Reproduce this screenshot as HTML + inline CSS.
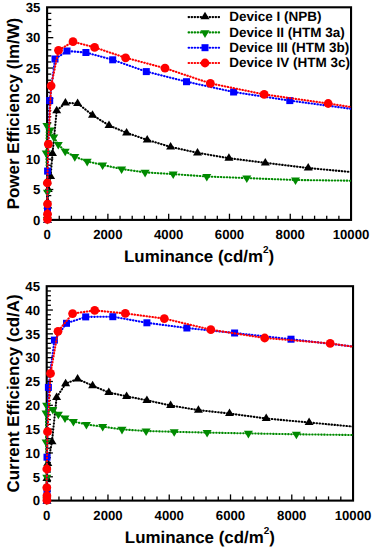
<!DOCTYPE html>
<html><head><meta charset="utf-8"><style>
html,body{margin:0;padding:0;background:#fff;}
svg{display:block;}
text{font-family:"Liberation Sans", sans-serif;font-weight:bold;fill:#000;text-rendering:geometricPrecision;}
.tk{font-size:13.2px;}
.lg{font-size:13.5px;}
.ti{font-size:16.9px;}
</style></head><body>
<svg width="374" height="550" viewBox="0 0 374 550">
<defs>
<clipPath id="c1"><rect x="41.1" y="7.3" width="309.95" height="218.6"/></clipPath>
<clipPath id="c2"><rect x="40.7" y="286.2" width="312.35" height="220.40000000000003"/></clipPath>
</defs>
<rect width="374" height="550" fill="#fff"/>
<text x="47.10" y="238.50" text-anchor="middle" class="tk">0</text>
<line x1="59.26" y1="219.90" x2="59.26" y2="215.70" stroke="#000" stroke-width="1.3"/>
<line x1="71.42" y1="219.90" x2="71.42" y2="215.70" stroke="#000" stroke-width="1.3"/>
<line x1="83.57" y1="219.90" x2="83.57" y2="215.70" stroke="#000" stroke-width="1.3"/>
<line x1="95.73" y1="219.90" x2="95.73" y2="215.70" stroke="#000" stroke-width="1.3"/>
<line x1="107.89" y1="219.90" x2="107.89" y2="213.70" stroke="#000" stroke-width="1.3"/>
<text x="107.89" y="238.50" text-anchor="middle" class="tk">2000</text>
<line x1="120.05" y1="219.90" x2="120.05" y2="215.70" stroke="#000" stroke-width="1.3"/>
<line x1="132.21" y1="219.90" x2="132.21" y2="215.70" stroke="#000" stroke-width="1.3"/>
<line x1="144.36" y1="219.90" x2="144.36" y2="215.70" stroke="#000" stroke-width="1.3"/>
<line x1="156.52" y1="219.90" x2="156.52" y2="215.70" stroke="#000" stroke-width="1.3"/>
<line x1="168.68" y1="219.90" x2="168.68" y2="213.70" stroke="#000" stroke-width="1.3"/>
<text x="168.68" y="238.50" text-anchor="middle" class="tk">4000</text>
<line x1="180.84" y1="219.90" x2="180.84" y2="215.70" stroke="#000" stroke-width="1.3"/>
<line x1="193.00" y1="219.90" x2="193.00" y2="215.70" stroke="#000" stroke-width="1.3"/>
<line x1="205.15" y1="219.90" x2="205.15" y2="215.70" stroke="#000" stroke-width="1.3"/>
<line x1="217.31" y1="219.90" x2="217.31" y2="215.70" stroke="#000" stroke-width="1.3"/>
<line x1="229.47" y1="219.90" x2="229.47" y2="213.70" stroke="#000" stroke-width="1.3"/>
<text x="229.47" y="238.50" text-anchor="middle" class="tk">6000</text>
<line x1="241.63" y1="219.90" x2="241.63" y2="215.70" stroke="#000" stroke-width="1.3"/>
<line x1="253.79" y1="219.90" x2="253.79" y2="215.70" stroke="#000" stroke-width="1.3"/>
<line x1="265.94" y1="219.90" x2="265.94" y2="215.70" stroke="#000" stroke-width="1.3"/>
<line x1="278.10" y1="219.90" x2="278.10" y2="215.70" stroke="#000" stroke-width="1.3"/>
<line x1="290.26" y1="219.90" x2="290.26" y2="213.70" stroke="#000" stroke-width="1.3"/>
<text x="290.26" y="238.50" text-anchor="middle" class="tk">8000</text>
<line x1="302.42" y1="219.90" x2="302.42" y2="215.70" stroke="#000" stroke-width="1.3"/>
<line x1="314.58" y1="219.90" x2="314.58" y2="215.70" stroke="#000" stroke-width="1.3"/>
<line x1="326.73" y1="219.90" x2="326.73" y2="215.70" stroke="#000" stroke-width="1.3"/>
<line x1="338.89" y1="219.90" x2="338.89" y2="215.70" stroke="#000" stroke-width="1.3"/>
<text x="351.05" y="238.50" text-anchor="middle" class="tk">10000</text>
<text x="40.40" y="224.65" text-anchor="end" class="tk">0</text>
<line x1="47.10" y1="213.83" x2="51.30" y2="213.83" stroke="#000" stroke-width="1.3"/>
<line x1="47.10" y1="207.75" x2="51.30" y2="207.75" stroke="#000" stroke-width="1.3"/>
<line x1="47.10" y1="201.68" x2="51.30" y2="201.68" stroke="#000" stroke-width="1.3"/>
<line x1="47.10" y1="195.60" x2="51.30" y2="195.60" stroke="#000" stroke-width="1.3"/>
<line x1="47.10" y1="189.53" x2="53.30" y2="189.53" stroke="#000" stroke-width="1.3"/>
<text x="40.40" y="194.28" text-anchor="end" class="tk">5</text>
<line x1="47.10" y1="183.45" x2="51.30" y2="183.45" stroke="#000" stroke-width="1.3"/>
<line x1="47.10" y1="177.38" x2="51.30" y2="177.38" stroke="#000" stroke-width="1.3"/>
<line x1="47.10" y1="171.31" x2="51.30" y2="171.31" stroke="#000" stroke-width="1.3"/>
<line x1="47.10" y1="165.23" x2="51.30" y2="165.23" stroke="#000" stroke-width="1.3"/>
<line x1="47.10" y1="159.16" x2="53.30" y2="159.16" stroke="#000" stroke-width="1.3"/>
<text x="40.40" y="163.91" text-anchor="end" class="tk">10</text>
<line x1="47.10" y1="153.08" x2="51.30" y2="153.08" stroke="#000" stroke-width="1.3"/>
<line x1="47.10" y1="147.01" x2="51.30" y2="147.01" stroke="#000" stroke-width="1.3"/>
<line x1="47.10" y1="140.93" x2="51.30" y2="140.93" stroke="#000" stroke-width="1.3"/>
<line x1="47.10" y1="134.86" x2="51.30" y2="134.86" stroke="#000" stroke-width="1.3"/>
<line x1="47.10" y1="128.79" x2="53.30" y2="128.79" stroke="#000" stroke-width="1.3"/>
<text x="40.40" y="133.54" text-anchor="end" class="tk">15</text>
<line x1="47.10" y1="122.71" x2="51.30" y2="122.71" stroke="#000" stroke-width="1.3"/>
<line x1="47.10" y1="116.64" x2="51.30" y2="116.64" stroke="#000" stroke-width="1.3"/>
<line x1="47.10" y1="110.56" x2="51.30" y2="110.56" stroke="#000" stroke-width="1.3"/>
<line x1="47.10" y1="104.49" x2="51.30" y2="104.49" stroke="#000" stroke-width="1.3"/>
<line x1="47.10" y1="98.41" x2="53.30" y2="98.41" stroke="#000" stroke-width="1.3"/>
<text x="40.40" y="103.16" text-anchor="end" class="tk">20</text>
<line x1="47.10" y1="92.34" x2="51.30" y2="92.34" stroke="#000" stroke-width="1.3"/>
<line x1="47.10" y1="86.27" x2="51.30" y2="86.27" stroke="#000" stroke-width="1.3"/>
<line x1="47.10" y1="80.19" x2="51.30" y2="80.19" stroke="#000" stroke-width="1.3"/>
<line x1="47.10" y1="74.12" x2="51.30" y2="74.12" stroke="#000" stroke-width="1.3"/>
<line x1="47.10" y1="68.04" x2="53.30" y2="68.04" stroke="#000" stroke-width="1.3"/>
<text x="40.40" y="72.79" text-anchor="end" class="tk">25</text>
<line x1="47.10" y1="61.97" x2="51.30" y2="61.97" stroke="#000" stroke-width="1.3"/>
<line x1="47.10" y1="55.89" x2="51.30" y2="55.89" stroke="#000" stroke-width="1.3"/>
<line x1="47.10" y1="49.82" x2="51.30" y2="49.82" stroke="#000" stroke-width="1.3"/>
<line x1="47.10" y1="43.75" x2="51.30" y2="43.75" stroke="#000" stroke-width="1.3"/>
<line x1="47.10" y1="37.67" x2="53.30" y2="37.67" stroke="#000" stroke-width="1.3"/>
<text x="40.40" y="42.42" text-anchor="end" class="tk">30</text>
<line x1="47.10" y1="31.60" x2="51.30" y2="31.60" stroke="#000" stroke-width="1.3"/>
<line x1="47.10" y1="25.52" x2="51.30" y2="25.52" stroke="#000" stroke-width="1.3"/>
<line x1="47.10" y1="19.45" x2="51.30" y2="19.45" stroke="#000" stroke-width="1.3"/>
<line x1="47.10" y1="13.37" x2="51.30" y2="13.37" stroke="#000" stroke-width="1.3"/>
<text x="40.40" y="12.05" text-anchor="end" class="tk">35</text>
<text transform="translate(18.9 113.5) rotate(-90)" text-anchor="middle" class="ti">Power Efficiency (lm/W)</text>
<text x="199.08" y="262.10" text-anchor="middle" class="ti">Luminance (cd/m<tspan font-size="10" dy="-8.7">2</tspan><tspan dy="8.7">)</tspan></text>
<text x="46.70" y="519.80" text-anchor="middle" class="tk">0</text>
<line x1="58.95" y1="500.60" x2="58.95" y2="496.40" stroke="#000" stroke-width="1.3"/>
<line x1="71.21" y1="500.60" x2="71.21" y2="496.40" stroke="#000" stroke-width="1.3"/>
<line x1="83.46" y1="500.60" x2="83.46" y2="496.40" stroke="#000" stroke-width="1.3"/>
<line x1="95.72" y1="500.60" x2="95.72" y2="496.40" stroke="#000" stroke-width="1.3"/>
<line x1="107.97" y1="500.60" x2="107.97" y2="494.40" stroke="#000" stroke-width="1.3"/>
<text x="107.97" y="519.80" text-anchor="middle" class="tk">2000</text>
<line x1="120.22" y1="500.60" x2="120.22" y2="496.40" stroke="#000" stroke-width="1.3"/>
<line x1="132.48" y1="500.60" x2="132.48" y2="496.40" stroke="#000" stroke-width="1.3"/>
<line x1="144.73" y1="500.60" x2="144.73" y2="496.40" stroke="#000" stroke-width="1.3"/>
<line x1="156.99" y1="500.60" x2="156.99" y2="496.40" stroke="#000" stroke-width="1.3"/>
<line x1="169.24" y1="500.60" x2="169.24" y2="494.40" stroke="#000" stroke-width="1.3"/>
<text x="169.24" y="519.80" text-anchor="middle" class="tk">4000</text>
<line x1="181.49" y1="500.60" x2="181.49" y2="496.40" stroke="#000" stroke-width="1.3"/>
<line x1="193.75" y1="500.60" x2="193.75" y2="496.40" stroke="#000" stroke-width="1.3"/>
<line x1="206.00" y1="500.60" x2="206.00" y2="496.40" stroke="#000" stroke-width="1.3"/>
<line x1="218.26" y1="500.60" x2="218.26" y2="496.40" stroke="#000" stroke-width="1.3"/>
<line x1="230.51" y1="500.60" x2="230.51" y2="494.40" stroke="#000" stroke-width="1.3"/>
<text x="230.51" y="519.80" text-anchor="middle" class="tk">6000</text>
<line x1="242.76" y1="500.60" x2="242.76" y2="496.40" stroke="#000" stroke-width="1.3"/>
<line x1="255.02" y1="500.60" x2="255.02" y2="496.40" stroke="#000" stroke-width="1.3"/>
<line x1="267.27" y1="500.60" x2="267.27" y2="496.40" stroke="#000" stroke-width="1.3"/>
<line x1="279.53" y1="500.60" x2="279.53" y2="496.40" stroke="#000" stroke-width="1.3"/>
<line x1="291.78" y1="500.60" x2="291.78" y2="494.40" stroke="#000" stroke-width="1.3"/>
<text x="291.78" y="519.80" text-anchor="middle" class="tk">8000</text>
<line x1="304.03" y1="500.60" x2="304.03" y2="496.40" stroke="#000" stroke-width="1.3"/>
<line x1="316.29" y1="500.60" x2="316.29" y2="496.40" stroke="#000" stroke-width="1.3"/>
<line x1="328.54" y1="500.60" x2="328.54" y2="496.40" stroke="#000" stroke-width="1.3"/>
<line x1="340.80" y1="500.60" x2="340.80" y2="496.40" stroke="#000" stroke-width="1.3"/>
<text x="353.05" y="519.80" text-anchor="middle" class="tk">10000</text>
<text x="40.00" y="505.35" text-anchor="end" class="tk">0</text>
<line x1="46.70" y1="495.84" x2="50.90" y2="495.84" stroke="#000" stroke-width="1.3"/>
<line x1="46.70" y1="491.07" x2="50.90" y2="491.07" stroke="#000" stroke-width="1.3"/>
<line x1="46.70" y1="486.31" x2="50.90" y2="486.31" stroke="#000" stroke-width="1.3"/>
<line x1="46.70" y1="481.54" x2="50.90" y2="481.54" stroke="#000" stroke-width="1.3"/>
<line x1="46.70" y1="476.78" x2="52.90" y2="476.78" stroke="#000" stroke-width="1.3"/>
<text x="40.00" y="481.53" text-anchor="end" class="tk">5</text>
<line x1="46.70" y1="472.01" x2="50.90" y2="472.01" stroke="#000" stroke-width="1.3"/>
<line x1="46.70" y1="467.25" x2="50.90" y2="467.25" stroke="#000" stroke-width="1.3"/>
<line x1="46.70" y1="462.48" x2="50.90" y2="462.48" stroke="#000" stroke-width="1.3"/>
<line x1="46.70" y1="457.72" x2="50.90" y2="457.72" stroke="#000" stroke-width="1.3"/>
<line x1="46.70" y1="452.96" x2="52.90" y2="452.96" stroke="#000" stroke-width="1.3"/>
<text x="40.00" y="457.71" text-anchor="end" class="tk">10</text>
<line x1="46.70" y1="448.19" x2="50.90" y2="448.19" stroke="#000" stroke-width="1.3"/>
<line x1="46.70" y1="443.43" x2="50.90" y2="443.43" stroke="#000" stroke-width="1.3"/>
<line x1="46.70" y1="438.66" x2="50.90" y2="438.66" stroke="#000" stroke-width="1.3"/>
<line x1="46.70" y1="433.90" x2="50.90" y2="433.90" stroke="#000" stroke-width="1.3"/>
<line x1="46.70" y1="429.13" x2="52.90" y2="429.13" stroke="#000" stroke-width="1.3"/>
<text x="40.00" y="433.88" text-anchor="end" class="tk">15</text>
<line x1="46.70" y1="424.37" x2="50.90" y2="424.37" stroke="#000" stroke-width="1.3"/>
<line x1="46.70" y1="419.60" x2="50.90" y2="419.60" stroke="#000" stroke-width="1.3"/>
<line x1="46.70" y1="414.84" x2="50.90" y2="414.84" stroke="#000" stroke-width="1.3"/>
<line x1="46.70" y1="410.08" x2="50.90" y2="410.08" stroke="#000" stroke-width="1.3"/>
<line x1="46.70" y1="405.31" x2="52.90" y2="405.31" stroke="#000" stroke-width="1.3"/>
<text x="40.00" y="410.06" text-anchor="end" class="tk">20</text>
<line x1="46.70" y1="400.55" x2="50.90" y2="400.55" stroke="#000" stroke-width="1.3"/>
<line x1="46.70" y1="395.78" x2="50.90" y2="395.78" stroke="#000" stroke-width="1.3"/>
<line x1="46.70" y1="391.02" x2="50.90" y2="391.02" stroke="#000" stroke-width="1.3"/>
<line x1="46.70" y1="386.25" x2="50.90" y2="386.25" stroke="#000" stroke-width="1.3"/>
<line x1="46.70" y1="381.49" x2="52.90" y2="381.49" stroke="#000" stroke-width="1.3"/>
<text x="40.00" y="386.24" text-anchor="end" class="tk">25</text>
<line x1="46.70" y1="376.72" x2="50.90" y2="376.72" stroke="#000" stroke-width="1.3"/>
<line x1="46.70" y1="371.96" x2="50.90" y2="371.96" stroke="#000" stroke-width="1.3"/>
<line x1="46.70" y1="367.20" x2="50.90" y2="367.20" stroke="#000" stroke-width="1.3"/>
<line x1="46.70" y1="362.43" x2="50.90" y2="362.43" stroke="#000" stroke-width="1.3"/>
<line x1="46.70" y1="357.67" x2="52.90" y2="357.67" stroke="#000" stroke-width="1.3"/>
<text x="40.00" y="362.42" text-anchor="end" class="tk">30</text>
<line x1="46.70" y1="352.90" x2="50.90" y2="352.90" stroke="#000" stroke-width="1.3"/>
<line x1="46.70" y1="348.14" x2="50.90" y2="348.14" stroke="#000" stroke-width="1.3"/>
<line x1="46.70" y1="343.37" x2="50.90" y2="343.37" stroke="#000" stroke-width="1.3"/>
<line x1="46.70" y1="338.61" x2="50.90" y2="338.61" stroke="#000" stroke-width="1.3"/>
<line x1="46.70" y1="333.84" x2="52.90" y2="333.84" stroke="#000" stroke-width="1.3"/>
<text x="40.00" y="338.59" text-anchor="end" class="tk">35</text>
<line x1="46.70" y1="329.08" x2="50.90" y2="329.08" stroke="#000" stroke-width="1.3"/>
<line x1="46.70" y1="324.32" x2="50.90" y2="324.32" stroke="#000" stroke-width="1.3"/>
<line x1="46.70" y1="319.55" x2="50.90" y2="319.55" stroke="#000" stroke-width="1.3"/>
<line x1="46.70" y1="314.79" x2="50.90" y2="314.79" stroke="#000" stroke-width="1.3"/>
<line x1="46.70" y1="310.02" x2="52.90" y2="310.02" stroke="#000" stroke-width="1.3"/>
<text x="40.00" y="314.77" text-anchor="end" class="tk">40</text>
<line x1="46.70" y1="305.26" x2="50.90" y2="305.26" stroke="#000" stroke-width="1.3"/>
<line x1="46.70" y1="300.49" x2="50.90" y2="300.49" stroke="#000" stroke-width="1.3"/>
<line x1="46.70" y1="295.73" x2="50.90" y2="295.73" stroke="#000" stroke-width="1.3"/>
<line x1="46.70" y1="290.96" x2="50.90" y2="290.96" stroke="#000" stroke-width="1.3"/>
<text x="40.00" y="290.95" text-anchor="end" class="tk">45</text>
<text transform="translate(18.6 393.4) rotate(-90)" text-anchor="middle" class="ti">Current Efficiency (cd/A)</text>
<text x="199.88" y="542.80" text-anchor="middle" class="ti">Luminance (cd/m<tspan font-size="10" dy="-8.7">2</tspan><tspan dy="8.7">)</tspan></text>
<rect x="47.10" y="7.30" width="303.95" height="212.60" fill="none" stroke="#000" stroke-width="2.1"/>
<rect x="46.70" y="286.20" width="306.35" height="214.40" fill="none" stroke="#000" stroke-width="2.1"/>
<path d="M47.50 220.50 L47.80 206.00 L48.20 189.50 L50.60 176.40 L52.50 153.50 L56.70 110.60 L65.40 103.00 L77.60 103.30 L92.50 115.10 L109.00 125.40 L126.60 132.80 L147.20 139.90 L170.60 146.90 L197.50 152.80 L228.90 158.20 L265.30 162.80 L308.20 168.00 L351.00 172.00" fill="none" stroke="#000000" stroke-width="2.1" stroke-dasharray="0.5 2.5" stroke-linecap="round" clip-path="url(#c1)"/>
<path d="M47.50 215.60L52.00 223.10L43.00 223.10Z" fill="#000000"/>
<path d="M47.80 201.10L52.30 208.60L43.30 208.60Z" fill="#000000"/>
<path d="M48.20 184.60L52.70 192.10L43.70 192.10Z" fill="#000000"/>
<path d="M50.60 171.50L55.10 179.00L46.10 179.00Z" fill="#000000"/>
<path d="M52.50 148.60L57.00 156.10L48.00 156.10Z" fill="#000000"/>
<path d="M56.70 105.70L61.20 113.20L52.20 113.20Z" fill="#000000"/>
<path d="M65.40 98.10L69.90 105.60L60.90 105.60Z" fill="#000000"/>
<path d="M77.60 98.40L82.10 105.90L73.10 105.90Z" fill="#000000"/>
<path d="M92.50 110.20L97.00 117.70L88.00 117.70Z" fill="#000000"/>
<path d="M109.00 120.50L113.50 128.00L104.50 128.00Z" fill="#000000"/>
<path d="M126.60 127.90L131.10 135.40L122.10 135.40Z" fill="#000000"/>
<path d="M147.20 135.00L151.70 142.50L142.70 142.50Z" fill="#000000"/>
<path d="M170.60 142.00L175.10 149.50L166.10 149.50Z" fill="#000000"/>
<path d="M197.50 147.90L202.00 155.40L193.00 155.40Z" fill="#000000"/>
<path d="M228.90 153.30L233.40 160.80L224.40 160.80Z" fill="#000000"/>
<path d="M265.30 157.90L269.80 165.40L260.80 165.40Z" fill="#000000"/>
<path d="M308.20 163.10L312.70 170.60L303.70 170.60Z" fill="#000000"/>
<path d="M47.30 219.50 L47.50 192.30 L46.20 153.10 L46.90 125.50 L50.10 130.20 L53.80 137.00 L58.30 144.50 L65.20 151.30 L74.80 156.70 L87.20 161.40 L102.60 165.00 L121.60 169.00 L145.10 172.40 L173.20 174.10 L206.80 176.50 L246.80 178.10 L295.50 180.00 L351.00 180.70" fill="none" stroke="#008a00" stroke-width="2.1" stroke-dasharray="0.5 2.5" stroke-linecap="round" clip-path="url(#c1)"/>
<path d="M47.30 224.50L51.80 216.90L42.80 216.90Z" fill="#008a00"/>
<path d="M47.50 197.30L52.00 189.70L43.00 189.70Z" fill="#008a00"/>
<path d="M46.20 158.10L50.70 150.50L41.70 150.50Z" fill="#008a00"/>
<path d="M46.90 130.50L51.40 122.90L42.40 122.90Z" fill="#008a00"/>
<path d="M50.10 135.20L54.60 127.60L45.60 127.60Z" fill="#008a00"/>
<path d="M53.80 142.00L58.30 134.40L49.30 134.40Z" fill="#008a00"/>
<path d="M58.30 149.50L62.80 141.90L53.80 141.90Z" fill="#008a00"/>
<path d="M65.20 156.30L69.70 148.70L60.70 148.70Z" fill="#008a00"/>
<path d="M74.80 161.70L79.30 154.10L70.30 154.10Z" fill="#008a00"/>
<path d="M87.20 166.40L91.70 158.80L82.70 158.80Z" fill="#008a00"/>
<path d="M102.60 170.00L107.10 162.40L98.10 162.40Z" fill="#008a00"/>
<path d="M121.60 174.00L126.10 166.40L117.10 166.40Z" fill="#008a00"/>
<path d="M145.10 177.40L149.60 169.80L140.60 169.80Z" fill="#008a00"/>
<path d="M173.20 179.10L177.70 171.50L168.70 171.50Z" fill="#008a00"/>
<path d="M206.80 181.50L211.30 173.90L202.30 173.90Z" fill="#008a00"/>
<path d="M246.80 183.10L251.30 175.50L242.30 175.50Z" fill="#008a00"/>
<path d="M295.50 185.00L300.00 177.40L291.00 177.40Z" fill="#008a00"/>
<path d="M47.50 219.50 L47.50 209.70 L47.60 171.10 L49.70 100.60 L55.00 59.00 L67.00 51.00 L85.90 52.50 L112.70 59.80 L146.30 71.60 L186.50 81.70 L233.60 92.00 L289.80 100.60 L351.00 108.80" fill="none" stroke="#0000ff" stroke-width="2.1" stroke-dasharray="0.5 2.5" stroke-linecap="round" clip-path="url(#c1)"/>
<rect x="44.00" y="216.00" width="7" height="7" fill="#0000ff"/>
<rect x="44.00" y="206.20" width="7" height="7" fill="#0000ff"/>
<rect x="44.10" y="167.60" width="7" height="7" fill="#0000ff"/>
<rect x="46.20" y="97.10" width="7" height="7" fill="#0000ff"/>
<rect x="51.50" y="55.50" width="7" height="7" fill="#0000ff"/>
<rect x="63.50" y="47.50" width="7" height="7" fill="#0000ff"/>
<rect x="82.40" y="49.00" width="7" height="7" fill="#0000ff"/>
<rect x="109.20" y="56.30" width="7" height="7" fill="#0000ff"/>
<rect x="142.80" y="68.10" width="7" height="7" fill="#0000ff"/>
<rect x="183.00" y="78.20" width="7" height="7" fill="#0000ff"/>
<rect x="230.10" y="88.50" width="7" height="7" fill="#0000ff"/>
<rect x="286.30" y="97.10" width="7" height="7" fill="#0000ff"/>
<path d="M47.50 219.30 L47.50 214.20 L47.50 204.00 L47.30 183.00 L48.30 144.10 L51.10 85.80 L58.50 50.30 L73.00 41.70 L94.60 47.40 L125.60 57.80 L165.00 68.20 L210.40 83.40 L264.20 94.40 L328.20 103.50 L351.00 107.00" fill="none" stroke="#ff0000" stroke-width="2.1" stroke-dasharray="0.5 2.5" stroke-linecap="round" clip-path="url(#c1)"/>
<circle cx="47.50" cy="219.30" r="4.4" fill="#ff0000"/>
<circle cx="47.50" cy="214.20" r="4.4" fill="#ff0000"/>
<circle cx="47.50" cy="204.00" r="4.4" fill="#ff0000"/>
<circle cx="47.30" cy="183.00" r="4.4" fill="#ff0000"/>
<circle cx="48.30" cy="144.10" r="4.4" fill="#ff0000"/>
<circle cx="51.10" cy="85.80" r="4.4" fill="#ff0000"/>
<circle cx="58.50" cy="50.30" r="4.4" fill="#ff0000"/>
<circle cx="73.00" cy="41.70" r="4.4" fill="#ff0000"/>
<circle cx="94.60" cy="47.40" r="4.4" fill="#ff0000"/>
<circle cx="125.60" cy="57.80" r="4.4" fill="#ff0000"/>
<circle cx="165.00" cy="68.20" r="4.4" fill="#ff0000"/>
<circle cx="210.40" cy="83.40" r="4.4" fill="#ff0000"/>
<circle cx="264.20" cy="94.40" r="4.4" fill="#ff0000"/>
<circle cx="328.20" cy="103.50" r="4.4" fill="#ff0000"/>
<path d="M47.00 501.20 L46.90 478.30 L47.80 463.50 L52.00 441.60 L56.60 397.40 L65.60 383.60 L77.60 379.00 L92.60 385.70 L108.80 392.50 L126.60 396.30 L146.90 400.30 L170.60 405.50 L198.40 410.10 L229.50 413.50 L266.20 418.50 L309.10 422.50 L353.00 426.60" fill="none" stroke="#000000" stroke-width="2.1" stroke-dasharray="0.5 2.5" stroke-linecap="round" clip-path="url(#c2)"/>
<path d="M47.00 496.30L51.50 503.80L42.50 503.80Z" fill="#000000"/>
<path d="M46.90 473.40L51.40 480.90L42.40 480.90Z" fill="#000000"/>
<path d="M47.80 458.60L52.30 466.10L43.30 466.10Z" fill="#000000"/>
<path d="M52.00 436.70L56.50 444.20L47.50 444.20Z" fill="#000000"/>
<path d="M56.60 392.50L61.10 400.00L52.10 400.00Z" fill="#000000"/>
<path d="M65.60 378.70L70.10 386.20L61.10 386.20Z" fill="#000000"/>
<path d="M77.60 374.10L82.10 381.60L73.10 381.60Z" fill="#000000"/>
<path d="M92.60 380.80L97.10 388.30L88.10 388.30Z" fill="#000000"/>
<path d="M108.80 387.60L113.30 395.10L104.30 395.10Z" fill="#000000"/>
<path d="M126.60 391.40L131.10 398.90L122.10 398.90Z" fill="#000000"/>
<path d="M146.90 395.40L151.40 402.90L142.40 402.90Z" fill="#000000"/>
<path d="M170.60 400.60L175.10 408.10L166.10 408.10Z" fill="#000000"/>
<path d="M198.40 405.20L202.90 412.70L193.90 412.70Z" fill="#000000"/>
<path d="M229.50 408.60L234.00 416.10L225.00 416.10Z" fill="#000000"/>
<path d="M266.20 413.60L270.70 421.10L261.70 421.10Z" fill="#000000"/>
<path d="M309.10 417.60L313.60 425.10L304.60 425.10Z" fill="#000000"/>
<path d="M46.80 500.20 L46.80 477.30 L46.10 442.00 L46.00 413.20 L46.60 405.30 L52.80 409.60 L58.40 414.30 L65.00 418.00 L73.40 421.50 L86.40 424.50 L102.70 426.60 L122.00 429.40 L146.10 431.00 L174.20 431.80 L207.10 432.60 L248.40 433.40 L296.40 434.30 L353.00 435.00" fill="none" stroke="#008a00" stroke-width="2.1" stroke-dasharray="0.5 2.5" stroke-linecap="round" clip-path="url(#c2)"/>
<path d="M46.80 505.20L51.30 497.60L42.30 497.60Z" fill="#008a00"/>
<path d="M46.80 482.30L51.30 474.70L42.30 474.70Z" fill="#008a00"/>
<path d="M46.10 447.00L50.60 439.40L41.60 439.40Z" fill="#008a00"/>
<path d="M46.00 418.20L50.50 410.60L41.50 410.60Z" fill="#008a00"/>
<path d="M46.60 410.30L51.10 402.70L42.10 402.70Z" fill="#008a00"/>
<path d="M52.80 414.60L57.30 407.00L48.30 407.00Z" fill="#008a00"/>
<path d="M58.40 419.30L62.90 411.70L53.90 411.70Z" fill="#008a00"/>
<path d="M65.00 423.00L69.50 415.40L60.50 415.40Z" fill="#008a00"/>
<path d="M73.40 426.50L77.90 418.90L68.90 418.90Z" fill="#008a00"/>
<path d="M86.40 429.50L90.90 421.90L81.90 421.90Z" fill="#008a00"/>
<path d="M102.70 431.60L107.20 424.00L98.20 424.00Z" fill="#008a00"/>
<path d="M122.00 434.40L126.50 426.80L117.50 426.80Z" fill="#008a00"/>
<path d="M146.10 436.00L150.60 428.40L141.60 428.40Z" fill="#008a00"/>
<path d="M174.20 436.80L178.70 429.20L169.70 429.20Z" fill="#008a00"/>
<path d="M207.10 437.60L211.60 430.00L202.60 430.00Z" fill="#008a00"/>
<path d="M248.40 438.40L252.90 430.80L243.90 430.80Z" fill="#008a00"/>
<path d="M296.40 439.30L300.90 431.70L291.90 431.70Z" fill="#008a00"/>
<path d="M46.90 500.20 L47.00 492.00 L47.00 457.20 L48.40 387.40 L54.40 340.10 L66.50 323.30 L85.70 316.90 L112.80 316.70 L146.90 322.80 L186.90 328.00 L234.60 333.00 L291.00 339.20 L353.00 346.50" fill="none" stroke="#0000ff" stroke-width="2.1" stroke-dasharray="0.5 2.5" stroke-linecap="round" clip-path="url(#c2)"/>
<rect x="43.40" y="496.70" width="7" height="7" fill="#0000ff"/>
<rect x="43.50" y="488.50" width="7" height="7" fill="#0000ff"/>
<rect x="43.50" y="453.70" width="7" height="7" fill="#0000ff"/>
<rect x="44.90" y="383.90" width="7" height="7" fill="#0000ff"/>
<rect x="50.90" y="336.60" width="7" height="7" fill="#0000ff"/>
<rect x="63.00" y="319.80" width="7" height="7" fill="#0000ff"/>
<rect x="82.20" y="313.40" width="7" height="7" fill="#0000ff"/>
<rect x="109.30" y="313.20" width="7" height="7" fill="#0000ff"/>
<rect x="143.40" y="319.30" width="7" height="7" fill="#0000ff"/>
<rect x="183.40" y="324.50" width="7" height="7" fill="#0000ff"/>
<rect x="231.10" y="329.50" width="7" height="7" fill="#0000ff"/>
<rect x="287.50" y="335.70" width="7" height="7" fill="#0000ff"/>
<path d="M46.90 500.20 L46.90 495.80 L46.80 487.60 L46.80 469.00 L47.50 431.70 L50.50 373.40 L58.00 331.30 L72.60 313.60 L94.70 310.40 L125.30 313.40 L164.30 318.60 L210.80 329.70 L264.70 338.00 L330.20 343.40 L353.00 346.70" fill="none" stroke="#ff0000" stroke-width="2.1" stroke-dasharray="0.5 2.5" stroke-linecap="round" clip-path="url(#c2)"/>
<circle cx="46.90" cy="500.20" r="4.4" fill="#ff0000"/>
<circle cx="46.90" cy="495.80" r="4.4" fill="#ff0000"/>
<circle cx="46.80" cy="487.60" r="4.4" fill="#ff0000"/>
<circle cx="46.80" cy="469.00" r="4.4" fill="#ff0000"/>
<circle cx="47.50" cy="431.70" r="4.4" fill="#ff0000"/>
<circle cx="50.50" cy="373.40" r="4.4" fill="#ff0000"/>
<circle cx="58.00" cy="331.30" r="4.4" fill="#ff0000"/>
<circle cx="72.60" cy="313.60" r="4.4" fill="#ff0000"/>
<circle cx="94.70" cy="310.40" r="4.4" fill="#ff0000"/>
<circle cx="125.30" cy="313.40" r="4.4" fill="#ff0000"/>
<circle cx="164.30" cy="318.60" r="4.4" fill="#ff0000"/>
<circle cx="210.80" cy="329.70" r="4.4" fill="#ff0000"/>
<circle cx="264.70" cy="338.00" r="4.4" fill="#ff0000"/>
<circle cx="330.20" cy="343.40" r="4.4" fill="#ff0000"/>
<line x1="188.6" y1="17.10" x2="221.6" y2="17.10" stroke="#000000" stroke-width="2.1" stroke-dasharray="0.5 2.5" stroke-linecap="round"/>
<path d="M205.00 11.70L209.50 19.20L200.50 19.20Z" fill="#000000"/>
<text x="229.3" y="21.35" class="lg">Device I (NPB)</text>
<line x1="188.6" y1="32.40" x2="221.6" y2="32.40" stroke="#008a00" stroke-width="2.1" stroke-dasharray="0.5 2.5" stroke-linecap="round"/>
<path d="M205.00 37.90L209.50 30.30L200.50 30.30Z" fill="#008a00"/>
<text x="229.3" y="36.65" class="lg">Device II (HTM 3a)</text>
<line x1="188.6" y1="47.70" x2="221.6" y2="47.70" stroke="#0000ff" stroke-width="2.1" stroke-dasharray="0.5 2.5" stroke-linecap="round"/>
<rect x="201.50" y="44.20" width="7" height="7" fill="#0000ff"/>
<text x="229.3" y="51.95" class="lg">Device III (HTM 3b)</text>
<line x1="188.6" y1="63.00" x2="221.6" y2="63.00" stroke="#ff0000" stroke-width="2.1" stroke-dasharray="0.5 2.5" stroke-linecap="round"/>
<circle cx="205.00" cy="63.00" r="4.4" fill="#ff0000"/>
<text x="229.3" y="67.25" class="lg">Device IV (HTM 3c)</text>
</svg>
</body></html>
